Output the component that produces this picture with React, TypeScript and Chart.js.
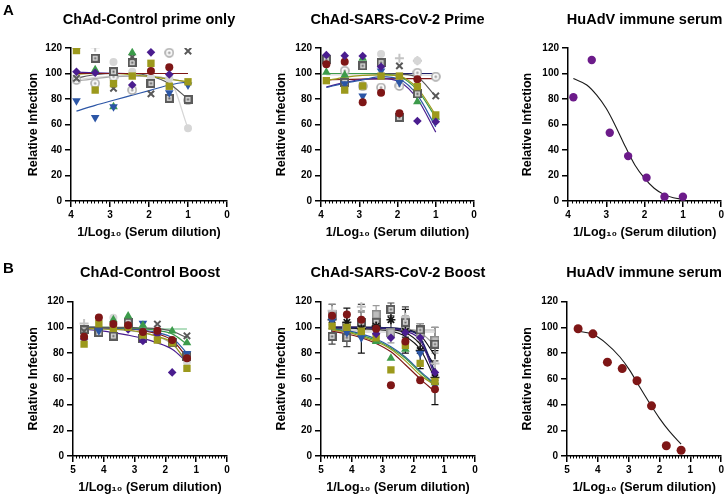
import React, { useEffect, useRef } from 'react';
import { Chart, registerables } from 'chart.js';

Chart.register(...registerables);

const FONT = "'Liberation Sans', Arial, Helvetica, sans-serif";

// ---------- shared axis values ----------
const xTop = [3.86, 3.38, 2.91, 2.43, 1.95, 1.48, 1.0];
const xBottom = [4.64, 4.16, 3.69, 3.21, 2.73, 2.26, 1.78, 1.3];
const xAxisTitle = '1/Log₁₀ (Serum dilution)';
const yAxisTitle = 'Relative Infection';
const panelTitles = [
  'ChAd-Control prime only',
  'ChAd-SARS-CoV-2 Prime',
  'HuAdV immune serum',
  'ChAd-Control Boost',
  'ChAd-SARS-CoV-2 Boost',
  'HuAdV immune serum',
];

// ---------- Panel A1: ChAd-Control prime only ----------
const a1Olive = [118, 87, 92, 98, 108, 90, 93.5];
const a1Plus = [120, 120.5, null, null, null, null, null];
const a1Box = [null, 112, 101.4, 108.5, 92.3, 80.5, 79.7];
const a1Light = [null, null, 109, 101.4, 97, 96, 57];
const a1Dot = [95, 92.3, 97.5, 87, null, 116.3, 79];
const a1Green = [null, 103, 74, 116.3, null, null, null];
const a1Purple = [101.4, 100.6, null, 91, 116.6, 99.3, null];
const a1Red = [null, null, null, null, 102, 105, null];
const a1Blue = [78.7, 65.4, 74, null, null, 85, 91];
const a1Cross = [96.2, null, 88.4, 113, 84, null, 117.6];

const a1CurveRed = [100, 100, 100, 100, 100, 100, 100];
const a1CurvePurple = [101, 100.5, 100.2, 100, 100, 100, 100];
const a1CurveOlive = [99.5, 100, 100, 99, 97.5, 95.5, 93.5];
const a1CurveBlue = [70.5, 75, 79, 83, 87, 91, 93.5];
const a1CurveCross = [96.5, 99, 100, 100, 98, 92, 80];
const a1CurveLight = [95, 97, 98, 98.5, 98, 95, 57];
const a1CurveDot = [94, 96, 97.5, 98, 97.5, 96, 93];

// ---------- Panel A2: ChAd-SARS-CoV-2 Prime ----------
const a2Olive = [94.4, 87, 90.2, 98, 98, 89.7, 67.5];
const a2Purple = [114.5, 114, 113.7, 105.3, null, 62.7, 62.2];
const a2Box = [110.6, 93, 106, 108.5, 65.6, 84, null];
const a2Red = [107.2, 109.3, 77.4, 85, 68.8, 95.4, null];
const a2Green = [101, 98.8, 112, null, null, 77.9, 65.6];
const a2Dot = [null, 102.2, 90, 89, 90.2, 100.6, 97.5];
const a2Blue = [null, 92, 82.4, 102, 93, null, null];
const a2Light = [null, null, null, 115.3, null, 110, 98];
const a2Plus = [null, null, null, null, 112, 110, null];
const a2Cross = [null, null, null, null, 106, null, 82.4];

const a2CurveNavy = [100, 100, 100, 100, 100, 100, 100];
const a2CurveLight = [99, 99, 99, 99, 99, 99, 98.5];
const a2CurveRed = [95, 95.3, 95.6, 95.8, 96, 96, 96];
const a2CurveCross = [100, 100, 100, 100, 99.5, 97, 82];
const a2CurveOlive = [94.5, 97, 98.5, 99, 98, 88.5, 67.5];
const a2CurveGreen = [100, 100, 100, 99.5, 97.5, 87, 65.5];
const a2CurveBlue = [89, 92.5, 95, 97.5, 95.5, 83, 58];
const a2CurvePurple = [89.5, 93, 95.5, 96, 93.5, 80, 54];

// ---------- Panel A3: HuAdV immune serum (prime) ----------
const a3Points = [81.4, 110.6, 53.5, 35.2, 18.3, 3.4, 3.4];
const a3CurveX = [3.86, 3.51, 3.25, 3.0, 2.77, 2.5, 2.25, 2.0, 1.75, 1.5, 1.25, 1.0];
const a3CurveY = [96, 91, 83, 72.5, 59.5, 42.5, 28, 17.7, 10, 5.2, 2.6, 1.3];

// ---------- Panel B1: ChAd-Control Boost ----------
const b1Plus = [103, null, null, null, null, null, null, null];
const b1Box = [98, 96, 93.3, 104, 91.5, null, 88, 77];
const b1Cross = [97, null, null, null, null, 102.6, null, 93.5];
const b1Red = [92.8, 107.8, 102.6, 101.6, 96.4, 97.4, 90.2, 76];
const b1Purple = [91, null, null, 98.5, 89.4, 94.6, 65, null];
const b1Olive = [87, 103, 99.3, 100, 94, 90.2, 88, 68.2];
const b1Blue = [null, 97.5, null, null, 103.2, null, null, 79.8];
const b1Green = [null, null, 106, 108.9, 101.6, null, 97.2, 88.1];
const b1Light = [null, null, 107.5, null, null, null, null, 73.3];

const b1CurveLightGreen = [98.8, 98.8, 98.8, 98.8, 98.8, 98.8, 98.8, 98.8];
const b1CurveCross = [100, 100, 100, 100, 99.5, 99, 97, 92];
const b1CurveGreen = [100, 100, 100, 99.5, 99, 97.5, 95, 87];
const b1CurveBlue = [100, 100, 99.5, 99, 98, 96, 92, 80];
const b1CurveRed = [100, 100, 99.5, 99, 97.5, 95, 90, 77];
const b1CurveOlive = [99, 99, 98.5, 98, 96, 93, 88, 72];
const b1CurveBox = [99, 99, 98.5, 97.5, 96, 93, 87, 74];
const b1CurvePurple = [98.5, 97.5, 96, 94, 91.5, 88, 83, 73];

// ---------- Panel B2: ChAd-SARS-CoV-2 Boost ----------
const b2Plus = [113, null, 116, null, null, 108, null, 72];
const b2Red = [109, 110, 106, 99, 55, 89, 59, 52];
const b2Box = [93, 92, 104, 104, 114, 104, 98, 87];
const b2Black = [106, 104, 99, 101, 106, 97, 82, 61];
const b2Blue = [105, 96, 92, null, null, null, 80, 55];
const b2Olive = [101, 100, 97, 92, 67, 86, 72, 58];
const b2Purple = [null, null, null, 95, 92, 96, 92, 65];
const b2Green = [null, null, null, 89, 76, 83, null, 57];
const b2Gray = [110, 101, 103, 110, 96, 101, 96, 90];
const b2BlackErr = [12, 11, 19, 12, 10, 17, 14, 21];
const b2BoxErr = [6, 7, 8, 9, 5, 12, 5, 13];
const b2GrayErr = [8, 9, 10, 7, 8, 8, 7, 10];

const b2CurveLight1 = [98, 98, 98, 98, 98, 98, 98, 98];
const b2CurveLight2 = [96.5, 96.5, 96.5, 96.5, 96.5, 96.5, 96.5, 96.5];
const b2CurveNavy = [100, 100, 100, 100, 99.5, 98, 92, 65];
const b2CurvePurple = [100, 100, 100, 99.5, 99, 97, 90, 62];
const b2CurveBlack1 = [100, 100, 100, 99.5, 98.5, 96, 87, 70];
const b2CurveBlack2 = [99.5, 99.5, 99, 98.5, 97, 93, 83, 60];
const b2CurveBlack3 = [100, 100, 100, 100, 99.5, 98.5, 94, 78];
const b2CurveGray = [100, 100, 100, 100, 99.5, 99, 96, 86];
const b2CurveBlue = [99, 97.5, 95, 91, 85, 77, 66, 56];
const b2CurveGreen = [98.5, 97, 94, 90, 84, 76, 65, 55];
const b2CurveOlive = [98, 96.5, 93, 89, 83, 74, 63, 55];
const b2CurveRed = [97, 95, 92, 87.5, 81, 71, 60, 50];

// ---------- Panel B3: HuAdV immune serum (boost) ----------
const b3Points = [99, 95, 73, 68, 58.5, 39, 8, 4.5];
const b3CurveX = [4.64, 4.16, 3.73, 3.29, 2.97, 2.65, 2.32, 2.0, 1.67, 1.3];
const b3CurveY = [97, 94.6, 87.6, 77.2, 66.8, 53.9, 41, 29.3, 18.9, 9.3];

// ---------- styles ----------
const C: Record<string, string> = {
  olive: '#9c991c',
  plus: '#c4c4c4',
  box: '#5b5b5b',
  boxFill: '#d3d3d3',
  light: '#d6d6d6',
  dot: '#a9a9a9',
  green: '#3c9b4b',
  purple: '#4a1d8f',
  red: '#7e1616',
  blue: '#2c56a6',
  cross: '#585858',
  navy: '#20206a',
  lightGreen: '#99d3a9',
  black: '#151515',
  gray: '#9b9b9b',
  huPurple: '#6c1b8a',
  curve: '#1a1a1a',
};

function canvasMarker(size: number, draw: (ctx: CanvasRenderingContext2D) => void) {
  const c = document.createElement('canvas');
  c.width = size;
  c.height = size;
  const ctx = c.getContext('2d')!;
  draw(ctx);
  return c;
}

function markerFor(key: string): any {
  switch (key) {
    case 'olive':
      return { pointStyle: 'rect', pointRadius: 5.2, backgroundColor: C.olive, borderColor: C.olive, borderWidth: 0 };
    case 'plus':
      return { pointStyle: 'cross', pointRadius: 4.5, backgroundColor: C.plus, borderColor: C.plus, borderWidth: 2 };
    case 'box':
      return {
        pointStyle: canvasMarker(9, (ctx) => {
          ctx.fillStyle = C.box;
          ctx.fillRect(0, 0, 9, 9);
          ctx.fillStyle = C.boxFill;
          ctx.fillRect(2, 2, 5, 5);
          ctx.fillStyle = C.box;
          ctx.fillRect(3.5, 3.5, 2, 2);
        }),
        pointRadius: 4.5,
        backgroundColor: C.box,
        borderColor: C.box,
        borderWidth: 0,
      };
    case 'dot':
      return {
        pointStyle: canvasMarker(10, (ctx) => {
          ctx.strokeStyle = C.dot;
          ctx.lineWidth = 1.6;
          ctx.fillStyle = '#ffffff';
          ctx.beginPath();
          ctx.arc(5, 5, 4, 0, Math.PI * 2);
          ctx.fill();
          ctx.stroke();
          ctx.fillStyle = C.dot;
          ctx.beginPath();
          ctx.arc(5, 5, 1.5, 0, Math.PI * 2);
          ctx.fill();
        }),
        pointRadius: 5,
        backgroundColor: C.dot,
        borderColor: C.dot,
        borderWidth: 0,
      };
    case 'light':
      return { pointStyle: 'circle', pointRadius: 4, backgroundColor: C.light, borderColor: C.light, borderWidth: 0 };
    case 'green':
      return { pointStyle: 'triangle', pointRadius: 5, backgroundColor: C.green, borderColor: C.green, borderWidth: 0 };
    case 'purple':
      return { pointStyle: 'rectRot', pointRadius: 4.3, backgroundColor: C.purple, borderColor: C.purple, borderWidth: 0 };
    case 'red':
      return { pointStyle: 'circle', pointRadius: 4, backgroundColor: C.red, borderColor: C.red, borderWidth: 0 };
    case 'blue':
      return { pointStyle: 'triangle', rotation: 180, pointRadius: 5, backgroundColor: C.blue, borderColor: C.blue, borderWidth: 0 };
    case 'cross':
      return { pointStyle: 'crossRot', pointRadius: 4.5, backgroundColor: C.cross, borderColor: C.cross, borderWidth: 2 };
    case 'black':
      return { pointStyle: 'star', pointRadius: 4.5, backgroundColor: C.black, borderColor: C.black, borderWidth: 1.6 };
    case 'gray':
      return {
        pointStyle: canvasMarker(9, (ctx) => {
          ctx.fillStyle = '#8a8a8a';
          ctx.fillRect(0, 0, 9, 9);
          ctx.fillStyle = '#bdbdbd';
          ctx.fillRect(1.5, 1.5, 6, 6);
        }),
        pointRadius: 4.5,
        backgroundColor: '#8a8a8a',
        borderColor: '#8a8a8a',
        borderWidth: 0,
      };
    case 'huPurple':
      return { pointStyle: 'circle', pointRadius: 4.2, backgroundColor: C.huPurple, borderColor: C.huPurple, borderWidth: 0 };
    case 'huRed':
      return { pointStyle: 'circle', pointRadius: 4.5, backgroundColor: C.red, borderColor: C.red, borderWidth: 0 };
    default:
      return { pointStyle: 'circle', pointRadius: 4, backgroundColor: '#000', borderColor: '#000', borderWidth: 0 };
  }
}

type PointSeries = { marker: string; xs: number[]; values: (number | null)[]; errors?: number[]; errorColor?: string };
type CurveSeries = { color: string; xs: number[]; values: number[]; width?: number };

type PanelSpec = {
  title: string;
  left: number;
  top: number;
  width: number;
  height: number;
  yWidth: number;
  padRight: number;
  xHeight: number;
  padTop: number;
  titleY: number;
  yTitlePad: number;
  xTitlePadBottom: number;
  xMax: number;
  points: PointSeries[];
  curves: CurveSeries[];
};

// Panel title centred over the plot area (GraphPad style, may overhang the axis)
const panelTitlePlugin = {
  id: 'panelTitle',
  afterDraw(chart: any, _args: any, opts: any) {
    const { ctx, chartArea } = chart;
    ctx.save();
    ctx.font = `bold 14.5px ${FONT}`;
    ctx.fillStyle = '#000';
    ctx.textAlign = 'center';
    ctx.textBaseline = 'middle';
    ctx.fillText(opts.text, (chartArea.left + chartArea.right) / 2, opts.y);
    ctx.restore();
  },
};

const minorTicksPlugin = {
  id: 'minorTicks',
  afterDraw(chart: any) {
    const xs = chart.scales.x;
    const ctx = chart.ctx;
    ctx.save();
    ctx.strokeStyle = '#000';
    ctx.lineWidth = 1;
    const n = Math.round(xs.max * 10);
    for (let i = 0; i <= n; i++) {
      if (i % 10 === 0) continue;
      const px = Math.round(xs.getPixelForValue(i / 10)) + 0.5;
      ctx.beginPath();
      ctx.moveTo(px, xs.top);
      ctx.lineTo(px, xs.top + 2.5);
      ctx.stroke();
    }
    ctx.restore();
  },
};

const errorBarPlugin = {
  id: 'errorBars',
  beforeDatasetsDraw(chart: any) {
    const { ctx } = chart;
    const xs = chart.scales.x;
    const ys = chart.scales.y;
    ctx.save();
    chart.data.datasets.forEach((ds: any) => {
      if (!ds.errorColor) return;
      ctx.strokeStyle = ds.errorColor;
      ctx.lineWidth = 1.2;
      ds.data.forEach((p: any) => {
        if (p.e == null) return;
        const px = xs.getPixelForValue(p.x);
        const t = ys.getPixelForValue(p.y + p.e);
        const b = ys.getPixelForValue(p.y - p.e);
        ctx.beginPath();
        ctx.moveTo(px, t);
        ctx.lineTo(px, b);
        ctx.moveTo(px - 3.5, t);
        ctx.lineTo(px + 3.5, t);
        ctx.moveTo(px - 3.5, b);
        ctx.lineTo(px + 3.5, b);
        ctx.stroke();
      });
    });
    ctx.restore();
  },
};

function buildConfig(p: PanelSpec): any {
  const datasets: any[] = [];
  p.points.forEach((s) => {
    const data: any[] = [];
    s.xs.forEach((x, i) => {
      const v = s.values[i];
      if (v == null) return;
      data.push({ x, y: v, e: s.errors ? s.errors[i] : undefined });
    });
    datasets.push({
      data,
      showLine: false,
      order: 0,
      errorColor: s.errorColor,
      ...markerFor(s.marker),
      pointHoverRadius: 0,
    });
  });
  p.curves.forEach((c) => {
    datasets.push({
      data: c.xs.map((x, i) => ({ x, y: c.values[i] })),
      showLine: true,
      pointRadius: 0,
      pointHoverRadius: 0,
      borderColor: c.color,
      backgroundColor: c.color,
      borderWidth: c.width ?? 1.2,
      cubicInterpolationMode: 'monotone',
      fill: false,
      order: 1,
    });
  });

  const tickFont = { family: FONT, size: 10, weight: 'bold' as const };
  const titleFont = { family: FONT, size: 12.5, weight: 'bold' as const };

  return {
    type: 'scatter',
    data: { datasets },
    options: {
      responsive: false,
      animation: false,
      events: [],
      layout: { padding: { left: 0, right: p.padRight, top: p.padTop, bottom: 0 } },
      plugins: {
        legend: { display: false },
        tooltip: { enabled: false },
        title: { display: false },
        panelTitle: { text: p.title, y: p.titleY },
      },
      scales: {
        x: {
          type: 'linear',
          reverse: true,
          min: 0,
          max: p.xMax,
          afterFit: (s: any) => {
            s.height = p.xHeight;
          },
          ticks: { stepSize: 1, color: '#000', font: tickFont, padding: 2, maxRotation: 0, autoSkip: false },
          grid: { drawOnChartArea: false, drawTicks: true, tickLength: 6, color: '#000', lineWidth: 1.5 },
          border: { display: true, color: '#000', width: 1.5 },
          title: {
            display: true,
            text: xAxisTitle,
            color: '#000',
            font: titleFont,
            padding: { top: 0, bottom: p.xTitlePadBottom },
          },
        },
        y: {
          type: 'linear',
          min: 0,
          max: 120,
          afterFit: (s: any) => {
            s.width = p.yWidth;
          },
          ticks: { stepSize: 20, color: '#000', font: tickFont, padding: 3 },
          grid: { drawOnChartArea: false, drawTicks: true, tickLength: 6, color: '#000', lineWidth: 1.5 },
          border: { display: true, color: '#000', width: 1.5 },
          title: {
            display: true,
            text: yAxisTitle,
            color: '#000',
            font: titleFont,
            padding: { top: p.yTitlePad, bottom: 0 },
          },
        },
      },
    },
    plugins: [panelTitlePlugin, minorTicksPlugin, errorBarPlugin],
  };
}

const topRow = { top: 0, height: 245, xHeight: 44, padTop: 48, titleY: 20, xTitlePadBottom: 4.5, xMax: 4 };
const bottomRow = { top: 245, height: 253, xHeight: 42, padTop: 56.7, titleY: 28.3, xTitlePadBottom: 2.5, xMax: 5 };

function P(marker: string, xs: number[], values: (number | null)[], errors?: number[], errorColor?: string): PointSeries {
  return { marker, xs, values, errors, errorColor };
}
function L(color: string, xs: number[], values: number[], width?: number): CurveSeries {
  return { color, xs, values, width };
}

const panels: PanelSpec[] = [
  {
    title: panelTitles[0], left: 0, width: 244, yWidth: 71, padRight: 17, yTitlePad: 26.5, ...topRow,
    points: [
      P('plus', xTop, a1Plus), P('light', xTop, a1Light), P('dot', xTop, a1Dot), P('box', xTop, a1Box),
      P('cross', xTop, a1Cross), P('green', xTop, a1Green), P('blue', xTop, a1Blue), P('red', xTop, a1Red),
      P('purple', xTop, a1Purple), P('olive', xTop, a1Olive),
    ].reverse(),
    curves: [
      L(C.light, xTop, a1CurveLight), L(C.dot, xTop, a1CurveDot), L(C.cross, xTop, a1CurveCross),
      L(C.blue, xTop, a1CurveBlue), L(C.olive, xTop, a1CurveOlive), L(C.purple, xTop, a1CurvePurple),
      L(C.red, xTop, a1CurveRed),
    ].reverse(),
  },
  {
    title: panelTitles[1], left: 244, width: 246, yWidth: 77, padRight: 16, yTitlePad: 30.5, ...topRow,
    points: [
      P('plus', xTop, a2Plus), P('light', xTop, a2Light), P('dot', xTop, a2Dot), P('box', xTop, a2Box),
      P('cross', xTop, a2Cross), P('green', xTop, a2Green), P('blue', xTop, a2Blue), P('red', xTop, a2Red),
      P('olive', xTop, a2Olive), P('purple', xTop, a2Purple),
    ].reverse(),
    curves: [
      L(C.light, xTop, a2CurveLight), L(C.red, xTop, a2CurveRed), L(C.navy, xTop, a2CurveNavy),
      L(C.cross, xTop, a2CurveCross), L(C.purple, xTop, a2CurvePurple), L(C.blue, xTop, a2CurveBlue),
      L(C.green, xTop, a2CurveGreen), L(C.olive, xTop, a2CurveOlive),
    ].reverse(),
  },
  {
    title: panelTitles[2], left: 490, width: 236, yWidth: 78, padRight: 4, yTitlePad: 30.5, ...topRow,
    points: [P('huPurple', xTop, a3Points)],
    curves: [L(C.curve, a3CurveX, a3CurveY, 1.1)],
  },
  {
    title: panelTitles[3], left: 0, width: 244, yWidth: 73, padRight: 17, yTitlePad: 25.8, ...bottomRow,
    points: [
      P('plus', xBottom, b1Plus), P('light', xBottom, b1Light), P('box', xBottom, b1Box), P('cross', xBottom, b1Cross),
      P('purple', xBottom, b1Purple), P('olive', xBottom, b1Olive), P('blue', xBottom, b1Blue),
      P('green', xBottom, b1Green), P('red', xBottom, b1Red),
    ].reverse(),
    curves: [
      L(C.lightGreen, xBottom, b1CurveLightGreen, 1.5), L(C.purple, xBottom, b1CurvePurple), L(C.dot, xBottom, b1CurveBox),
      L(C.olive, xBottom, b1CurveOlive), L(C.red, xBottom, b1CurveRed), L(C.blue, xBottom, b1CurveBlue),
      L(C.green, xBottom, b1CurveGreen), L(C.cross, xBottom, b1CurveCross),
    ].reverse(),
  },
  {
    title: panelTitles[4], left: 244, width: 246, yWidth: 77, padRight: 15, yTitlePad: 30.5, ...bottomRow,
    points: [
      P('gray', xBottom, b2Gray, b2GrayErr, '#9a9a9a'), P('box', xBottom, b2Box, b2BoxErr, '#444'),
      P('plus', xBottom, b2Plus), P('black', xBottom, b2Black, b2BlackErr, '#111'),
      P('blue', xBottom, b2Blue), P('green', xBottom, b2Green), P('olive', xBottom, b2Olive),
      P('purple', xBottom, b2Purple), P('red', xBottom, b2Red),
    ].reverse(),
    curves: [
      L(C.light, xBottom, b2CurveLight2, 1.5), L(C.plus, xBottom, b2CurveLight1, 1.5), L(C.gray, xBottom, b2CurveGray),
      L(C.black, xBottom, b2CurveBlack3), L(C.black, xBottom, b2CurveBlack1), L(C.black, xBottom, b2CurveBlack2),
      L(C.purple, xBottom, b2CurvePurple), L(C.navy, xBottom, b2CurveNavy, 1.5),
      L(C.blue, xBottom, b2CurveBlue), L(C.green, xBottom, b2CurveGreen), L(C.olive, xBottom, b2CurveOlive),
      L(C.red, xBottom, b2CurveRed),
    ].reverse(),
  },
  {
    title: panelTitles[5], left: 490, width: 236, yWidth: 77, padRight: 4, yTitlePad: 30.5, ...bottomRow,
    points: [P('huRed', xBottom, b3Points)],
    curves: [L(C.curve, b3CurveX, b3CurveY, 1.1)],
  },
];

function Panel({ spec }: { spec: PanelSpec }) {
  const ref = useRef<HTMLCanvasElement>(null);
  useEffect(() => {
    if (!ref.current) return;
    const chart = new Chart(ref.current, buildConfig(spec));
    return () => chart.destroy();
  }, [spec]);
  return (
    <div style={{ position: 'absolute', left: spec.left, top: spec.top, width: spec.width, height: spec.height }}>
      <canvas ref={ref} width={spec.width} height={spec.height} style={{ width: spec.width, height: spec.height, display: 'block' }} />
    </div>
  );
}

export default function App() {
  const letterStyle: React.CSSProperties = {
    position: 'absolute',
    fontFamily: FONT,
    fontWeight: 'bold',
    fontSize: 15,
    lineHeight: '15px',
    color: '#000',
  };
  return (
    <div style={{ position: 'absolute', left: 0, top: 0, width: 726, height: 498, background: '#fff', overflow: 'hidden' }}>
      {panels.map((p, i) => (
        <Panel key={i} spec={p} />
      ))}
      <div style={{ ...letterStyle, left: 3, top: 2 }}>A</div>
      <div style={{ ...letterStyle, left: 3, top: 260 }}>B</div>
    </div>
  );
}
